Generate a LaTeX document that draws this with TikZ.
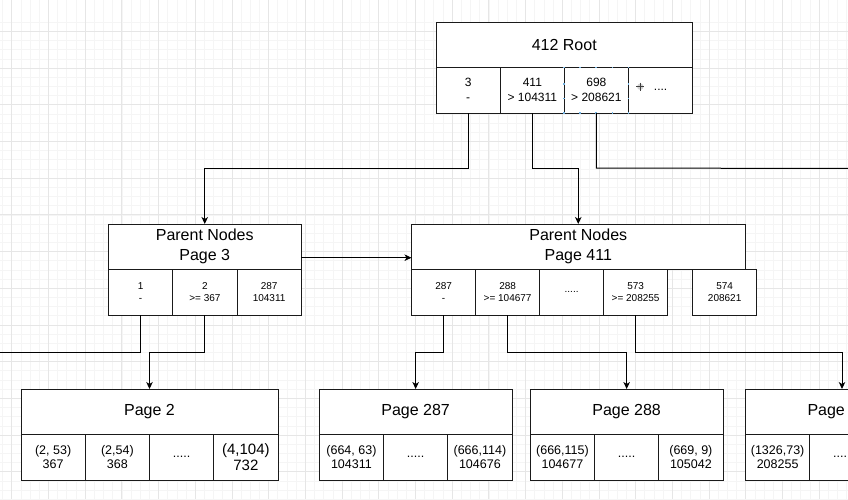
\documentclass[tikz,border=0pt]{standalone}
\usepackage{fontspec}
\setmainfont{Liberation Sans}
\usetikzlibrary{arrows.meta}
\definecolor{linec}{HTML}{1A1A1A}
\definecolor{gridminor}{HTML}{F5F5F5}
\definecolor{gridmajor}{HTML}{E6E6E6}
\definecolor{selblue}{HTML}{6FB0E0}
\begin{document}
\begin{tikzpicture}[x=1pt,y=-1pt,
  titlebox/.style={draw=linec, line width=1pt, inner sep=0pt, outer sep=0pt, anchor=north west,
    minimum height=45.5pt, font=\fontsize{16}{20}\selectfont, align=center, fill=white},
  cellbox/.style={draw=linec, line width=1pt, inner sep=0pt, outer sep=0pt, anchor=north west,
    minimum width=64.25pt, minimum height=45.5pt, align=center, fill=white},
  rootcell/.style={cellbox, font=\fontsize{12}{15}\selectfont},
  midcell/.style={cellbox, font=\fontsize{10}{12.5}\selectfont},
  leafcell/.style={cellbox, font=\fontsize{12.5}{14.5}\selectfont},
  bigleaf/.style={cellbox, font=\fontsize{15}{16}\selectfont},
  conn/.style={draw=black, line width=1pt, -{Stealth[length=7pt,width=6.5pt,inset=2pt]}},
  plainconn/.style={draw=black, line width=1pt},
]
\useasboundingbox (0,0) rectangle (848,499);
\clip (0,0) rectangle (848,499);
\fill[white] (0,0) rectangle (848,499);
% grid
\foreach \i in {-2,...,93} {
  \draw[gridminor, line width=0.6pt] ({11.7+\i*9.175},0) -- ({11.7+\i*9.175},499);
}
\foreach \i in {-1,...,55} {
  \draw[gridminor, line width=0.6pt] (0,{31.3+\i*9.175}) -- (848,{31.3+\i*9.175});
}
\foreach \i in {0,...,23} {
  \draw[gridmajor, line width=0.7pt] ({11.7+\i*36.7},0) -- ({11.7+\i*36.7},499);
}
\foreach \i in {-1,...,13} {
  \draw[gridmajor, line width=0.7pt] (0,{31.3+\i*36.7}) -- (848,{31.3+\i*36.7});
}

% Root
\node[titlebox, minimum width=256.5pt] (root) at (436,22) {412 Root};
\node[rootcell] (r0) at (436,67.5) {3\\-};
\node[rootcell] (r1) at (500.25,67.5) {411\\> 104311};
\node[rootcell] (r2) at (564.25,67.5) {698\\> 208621};
\node[rootcell] (r3) at (628.5,67.5) {....};
% selection handles
\foreach \px in {564,580,596.3,612.5,628.5} {
  \fill[selblue] (\px-0.9,66.6) rectangle (\px+0.9,68.4);
  \fill[selblue] (\px-0.9,112.1) rectangle (\px+0.9,113.9);
}
\foreach \py in {84,98.5} {
  \fill[selblue] (563.1,\py-0.9) rectangle (564.9,\py+0.9);
  \fill[selblue] (627.6,\py-0.9) rectangle (629.4,\py+0.9);
}
% cursor
\fill[gray!35] (640.3,86.7) circle (3.2pt);
\draw[black!75, line width=1pt] (636.3,86.7) -- (644.3,86.7) (640.3,82.7) -- (640.3,90.7);

% Parent Nodes Page 3
\node[titlebox, minimum width=192.5pt] (p3) at (108.5,224) {Parent Nodes\\Page 3};
\node[midcell] (p3a) at (108.5,269.5) {1\\-};
\node[midcell] (p3b) at (172.75,269.5) {2\\>= 367};
\node[midcell] (p3c) at (237,269.5) {287\\104311};

% Parent Nodes Page 411
\node[titlebox, minimum width=333.5pt] (p411) at (411.5,224) {Parent Nodes\\Page 411};
\node[midcell] (q1) at (411.5,269.5) {287\\-};
\node[midcell] (q2) at (475.5,269.5) {288\\>= 104677};
\node[midcell] (q3) at (539.5,269.5) {.....};
\node[midcell] (q4) at (603.5,269.5) {573\\>= 208255};
\node[midcell] (q5) at (692.5,269.5) {574\\208621};

% Page 2
\node[titlebox, minimum width=257pt] (pg2) at (21,389) {Page 2};
\node[leafcell] (a1) at (21,434.5) {(2, 53)\\367};
\node[leafcell] (a2) at (85.25,434.5) {(2,54)\\368};
\node[leafcell] (a3) at (149.5,434.5) {.....};
\node[bigleaf] (a4) at (213.75,434.5) {(4,104)\\732};

% Page 287
\node[titlebox, minimum width=192.7pt] (pg287) at (319.3,389) {Page 287};
\node[leafcell] (b1) at (319.3,434.5) {(664, 63)\\104311};
\node[leafcell] (b2) at (383.5,434.5) {.....};
\node[leafcell] (b3) at (447.75,434.5) {(666,114)\\104676};

% Page 288
\node[titlebox, minimum width=192.7pt] (pg288) at (530.3,389) {Page 288};
\node[leafcell] (c1) at (530.3,434.5) {(666,115)\\104677};
\node[leafcell] (c2) at (594.5,434.5) {.....};
\node[leafcell] (c3) at (658.75,434.5) {(669, 9)\\105042};

% Page (cut off)
\node[titlebox, minimum width=193pt] (pgx) at (745.5,389) {};
\node[anchor=west, inner sep=0pt, font=\fontsize{16}{20}\selectfont] (pgxt) at (807.3,411.5) {Page};
\node[leafcell] (d1) at (745.5,434.5) {(1326,73)\\208255};
\node[leafcell] (d2) at (809.75,434.5) {.....};
\node[leafcell] (d3) at (874,434.5) {};

% free ends
\coordinate (offR) at (852,168.5);
\coordinate (offL) at (-4,352.5);
\coordinate (midy) at (0,257.7);

% connectors from root
\draw[conn] (r0.south) -- ++(0,55) -| (p3.north);
\draw[conn] (r1.south) -- ++(0,55) -| (p411.north);
\draw[plainconn] (r2.south) -- ++(0,55) -- (offR);
% page 3 -> page 411
\draw[conn] (p3.east |- midy) -- (p411.west |- midy);
% from page 3 cells
\draw[plainconn] (p3a.south) -- ++(0,37.5) -- (offL);
\draw[conn] (p3b.south) -- ++(0,37.5) -| (pg2.north);
% from page 411 cells
\draw[conn] (q1.south) -- ++(0,37.5) -| (pg287.north);
\draw[conn] (q2.south) -- ++(0,37.5) -| (pg288.north);
\draw[conn] (q4.south) -- ++(0,37.5) -| (pgx.north);
\end{tikzpicture}
\end{document}
